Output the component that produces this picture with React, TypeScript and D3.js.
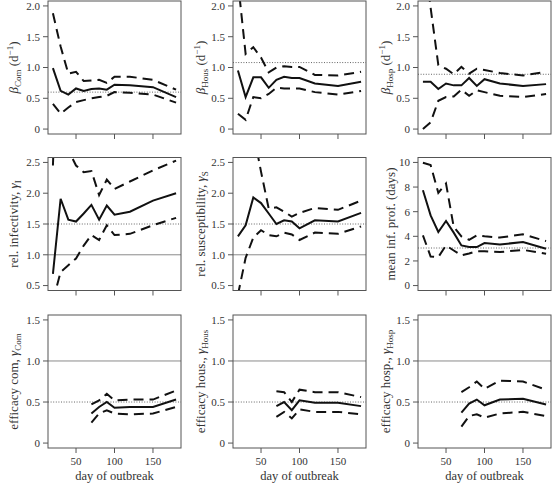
import React from "react";
import * as d3 from "d3";

// ---------- data ----------
const daysA = [20, 30, 40, 50, 60, 70, 80, 90, 100, 120, 150, 180];
const daysB = [70, 80, 90, 100, 120, 150, 180];
const xTicks = [50, 100, 150];

const betaComEst = [0.99, 0.62, 0.56, 0.66, 0.62, 0.65, 0.66, 0.64, 0.72, 0.71, 0.68, 0.52];
const betaComHi = [1.88, 1.34, 0.9, 0.93, 0.78, 0.79, 0.8, 0.75, 0.85, 0.85, 0.8, 0.64];
const betaComLo = [0.41, 0.25, 0.35, 0.44, 0.47, 0.5, 0.52, 0.54, 0.6, 0.59, 0.56, 0.43];

const betaHousEst = [0.95, 0.52, 0.84, 0.84, 0.67, 0.8, 0.85, 0.83, 0.83, 0.74, 0.7, 0.77];
const betaHousHi = [2.4, 1.22, 1.33, 1.16, 0.92, 1.0, 1.02, 1.01, 1.01, 0.88, 0.87, 0.93];
const betaHousLo = [0.25, 0.15, 0.52, 0.5, 0.57, 0.67, 0.66, 0.66, 0.66, 0.6, 0.56, 0.62];

const betaHospEst = [0.77, 0.77, 0.65, 0.74, 0.71, 0.71, 0.83, 0.7, 0.81, 0.74, 0.7, 0.73];
const betaHospHi = [3.0, 1.97, 1.04, 0.98, 0.89, 1.01, 0.9, 0.98, 0.96, 0.91, 0.87, 0.93];
const betaHospLo = [0.0, 0.11, 0.46, 0.52, 0.53, 0.64, 0.54, 0.63, 0.6, 0.54, 0.52, 0.57];

const gammaIEst = [0.69, 1.91, 1.57, 1.54, 1.67, 1.81, 1.57, 1.8, 1.65, 1.7, 1.88, 2.0];
const gammaIHi = [2.45, 6.0, 2.7, 2.45, 2.34, 2.36, 1.97, 2.22, 2.07, 2.19, 2.37, 2.53];
const gammaILo = [0.25, 0.72, 0.83, 0.94, 1.15, 1.32, 1.24, 1.48, 1.32, 1.34, 1.48, 1.6];

const gammaSEst = [1.3, 1.48, 1.93, 1.84, 1.67, 1.5, 1.56, 1.54, 1.43, 1.56, 1.54, 1.68];
const gammaSHi = [5.0, 4.0, 3.0, 2.35, 1.75, 1.77, 1.7, 1.62, 1.68, 1.76, 1.73, 1.88];
const gammaSLo = [0.35, 0.95, 1.28, 1.4, 1.32, 1.3, 1.36, 1.33, 1.24, 1.36, 1.34, 1.46];

const meanInfEst = [7.74, 5.7, 4.35, 5.24, 4.3, 3.26, 3.13, 3.13, 3.45, 3.34, 3.53, 2.99];
const meanInfHi = [9.97, 9.78, 7.53, 8.29, 4.76, 4.0, 3.72, 4.08, 4.0, 3.9, 4.16, 3.61];
const meanInfLo = [4.08, 2.36, 2.31, 3.26, 2.85, 2.45, 2.6, 2.8, 2.78, 2.72, 2.9, 2.58];

const effComEst = [0.36, 0.44, 0.5, 0.43, 0.44, 0.44, 0.53];
const effComHi = [0.47, 0.52, 0.6, 0.52, 0.53, 0.53, 0.64];
const effComLo = [0.25, 0.36, 0.4, 0.36, 0.35, 0.36, 0.44];

const effHousEst = [0.45, 0.5, 0.4, 0.52, 0.49, 0.49, 0.45];
const effHousHi = [0.63, 0.62, 0.5, 0.65, 0.62, 0.62, 0.56];
const effHousLo = [0.32, 0.38, 0.3, 0.41, 0.38, 0.38, 0.35];

const effHospEst = [0.37, 0.48, 0.53, 0.46, 0.53, 0.54, 0.47];
const effHospHi = [0.62, 0.68, 0.75, 0.66, 0.76, 0.75, 0.65];
const effHospLo = [0.2, 0.33, 0.35, 0.31, 0.36, 0.38, 0.33];

const ticksBeta = [0, 0.5, 1.0, 1.5, 2.0];
const ticksGamma = [0.5, 1.0, 1.5, 2.0, 2.5];
const ticksMeanInf = [0, 2, 4, 6, 8, 10];
const ticksEff = [0, 0.5, 1.0, 1.5];

// ---------- layout ----------
const colL = [48, 233, 418];
const rowT = [1, 157.5, 315];
const PW = 133;
const PH = 133;
const FONT = "'Liberation Serif', 'DejaVu Serif', serif";
const TXT = "#333";

type Label = { kind: "beta" | "gamma" | "plain"; pre?: string; sub?: string };

type Panel = {
  row: number;
  col: number;
  days: number[];
  est: number[];
  lo: number[];
  hi: number[];
  yMin: number;
  yMax: number;
  ticks: number[];
  fmt: (v: number) => string;
  ref: number;
  unity: boolean;
  label: Label;
  labelX: number;
};

const f1 = (v: number) => (v === 0 ? "0" : v.toFixed(1));
const f0 = (v: number) => String(v);

const panels: Panel[] = [
  { row: 0, col: 0, days: daysA, est: betaComEst, lo: betaComLo, hi: betaComHi, yMin: 0, yMax: 2, ticks: ticksBeta, fmt: f1, ref: 0.6, unity: false, label: { kind: "beta", sub: "Com" }, labelX: 13 },
  { row: 0, col: 1, days: daysA, est: betaHousEst, lo: betaHousLo, hi: betaHousHi, yMin: 0, yMax: 2, ticks: ticksBeta, fmt: f1, ref: 1.08, unity: false, label: { kind: "beta", sub: "Hous" }, labelX: 200.5 },
  { row: 0, col: 2, days: daysA, est: betaHospEst, lo: betaHospLo, hi: betaHospHi, yMin: 0, yMax: 2, ticks: ticksBeta, fmt: f1, ref: 0.89, unity: false, label: { kind: "beta", sub: "Hosp" }, labelX: 385.5 },
  { row: 1, col: 0, days: daysA, est: gammaIEst, lo: gammaILo, hi: gammaIHi, yMin: 0.5, yMax: 2.5, ticks: ticksGamma, fmt: f1, ref: 1.5, unity: true, label: { kind: "gamma", pre: "rel. infectivity, ", sub: "I" }, labelX: 13.5 },
  { row: 1, col: 1, days: daysA, est: gammaSEst, lo: gammaSLo, hi: gammaSHi, yMin: 0.5, yMax: 2.5, ticks: ticksGamma, fmt: f1, ref: 1.5, unity: true, label: { kind: "gamma", pre: "rel. susceptibility, ", sub: "S" }, labelX: 200.5 },
  { row: 1, col: 2, days: daysA, est: meanInfEst, lo: meanInfLo, hi: meanInfHi, yMin: 0, yMax: 10, ticks: ticksMeanInf, fmt: f0, ref: 3.05, unity: false, label: { kind: "plain", pre: "mean inf. prof. (days)" }, labelX: 390.5 },
  { row: 2, col: 0, days: daysB, est: effComEst, lo: effComLo, hi: effComHi, yMin: 0, yMax: 1.5, ticks: ticksEff, fmt: f1, ref: 0.5, unity: true, label: { kind: "gamma", pre: "efficacy com, ", sub: "Com" }, labelX: 13 },
  { row: 2, col: 1, days: daysB, est: effHousEst, lo: effHousLo, hi: effHousHi, yMin: 0, yMax: 1.5, ticks: ticksEff, fmt: f1, ref: 0.5, unity: true, label: { kind: "gamma", pre: "efficacy hous., ", sub: "Hous" }, labelX: 200.5 },
  { row: 2, col: 2, days: daysB, est: effHospEst, lo: effHospLo, hi: effHospHi, yMin: 0, yMax: 1.5, ticks: ticksEff, fmt: f1, ref: 0.5, unity: true, label: { kind: "gamma", pre: "efficacy hosp., ", sub: "Hosp" }, labelX: 385.5 },
];

function YLabel({ label, x, y }: { label: Label; x: number; y: number }) {
  const fs = 13;
  const sfs = 9;
  let content: React.ReactNode;
  if (label.kind === "beta") {
    content = (
      <>
        <tspan fontStyle="italic">β</tspan>
        <tspan fontSize={sfs} dy={3}>{label.sub}</tspan>
        <tspan dy={-3}>{" (d"}</tspan>
        <tspan fontSize={sfs} dy={-5}>−1</tspan>
        <tspan dy={5}>)</tspan>
      </>
    );
  } else if (label.kind === "gamma") {
    content = (
      <>
        <tspan>{label.pre}</tspan>
        <tspan fontStyle="italic">γ</tspan>
        <tspan fontSize={sfs} dy={3}>{label.sub}</tspan>
      </>
    );
  } else {
    content = <tspan>{label.pre}</tspan>;
  }
  return (
    <text
      transform={`translate(${x},${y}) rotate(-90)`}
      textAnchor="middle"
      dy="0.35em"
      fontSize={fs}
      fontFamily={FONT}
      fill={TXT}
    >
      {content}
    </text>
  );
}

function PanelView({ p, idx }: { p: Panel; idx: number }) {
  const L = colL[p.col];
  const T = rowT[p.row];
  const pad = (p.yMax - p.yMin) * 0.04;
  const x = d3.scaleLinear().domain([20 - 160 * 0.04, 180 + 160 * 0.04]).range([L, L + PW]);
  const y = d3.scaleLinear().domain([p.yMin - pad, p.yMax + pad]).range([T + PH, T]);
  const line = d3
    .line<number>()
    .x((_, i) => x(p.days[i]))
    .y((d) => y(d));
  const clipId = `clip-${idx}`;
  const bottom = T + PH;
  return (
    <g>
      <defs>
        <clipPath id={clipId}>
          <rect x={L} y={T} width={PW} height={PH} />
        </clipPath>
      </defs>
      {p.unity && (
        <line x1={L} x2={L + PW} y1={y(1)} y2={y(1)} stroke="#8a8a8a" strokeWidth={1} />
      )}
      <line
        x1={L}
        x2={L + PW}
        y1={y(p.ref)}
        y2={y(p.ref)}
        stroke="#666"
        strokeWidth={1}
        strokeDasharray="1,1.6"
      />
      <g clipPath={`url(#${clipId})`} fill="none" stroke="#111" strokeWidth={2}>
        <path d={line(p.hi) || ""} strokeDasharray="10,6" />
        <path d={line(p.lo) || ""} strokeDasharray="10,6" />
        <path d={line(p.est) || ""} strokeLinejoin="miter" />
      </g>
      <rect x={L} y={T} width={PW} height={PH} fill="none" stroke="#555" strokeWidth={1} />
      {p.ticks.map((t) => (
        <g key={`y${t}`}>
          <line x1={L - 5} x2={L} y1={y(t)} y2={y(t)} stroke="#555" strokeWidth={1} />
          <text
            x={L - 8}
            y={y(t)}
            dy="0.35em"
            textAnchor="end"
            fontSize={11}
            fontFamily={FONT}
            fill={TXT}
          >
            {p.fmt(t)}
          </text>
        </g>
      ))}
      {xTicks.map((t) => (
        <g key={`x${t}`}>
          <line x1={x(t)} x2={x(t)} y1={bottom} y2={bottom + 5} stroke="#555" strokeWidth={1} />
          {p.row === 2 && (
            <text
              x={x(t)}
              y={bottom + 17}
              textAnchor="middle"
              fontSize={11}
              fontFamily={FONT}
              fill={TXT}
            >
              {t}
            </text>
          )}
        </g>
      ))}
      {p.row === 2 && (
        <text
          x={L + PW / 2}
          y={bottom + 32}
          textAnchor="middle"
          fontSize={12.5}
          fontFamily={FONT}
          fill={TXT}
        >
          day of outbreak
        </text>
      )}
      <YLabel label={p.label} x={p.labelX} y={T + PH / 2} />
    </g>
  );
}

export default function App() {
  return (
    <svg
      width={552}
      height={484}
      style={{ position: "absolute", left: 0, top: 0, background: "#fff" }}
    >
      <rect x={0} y={0} width={552} height={484} fill="#fff" />
      {panels.map((p, i) => (
        <PanelView key={i} p={p} idx={i} />
      ))}
    </svg>
  );
}
